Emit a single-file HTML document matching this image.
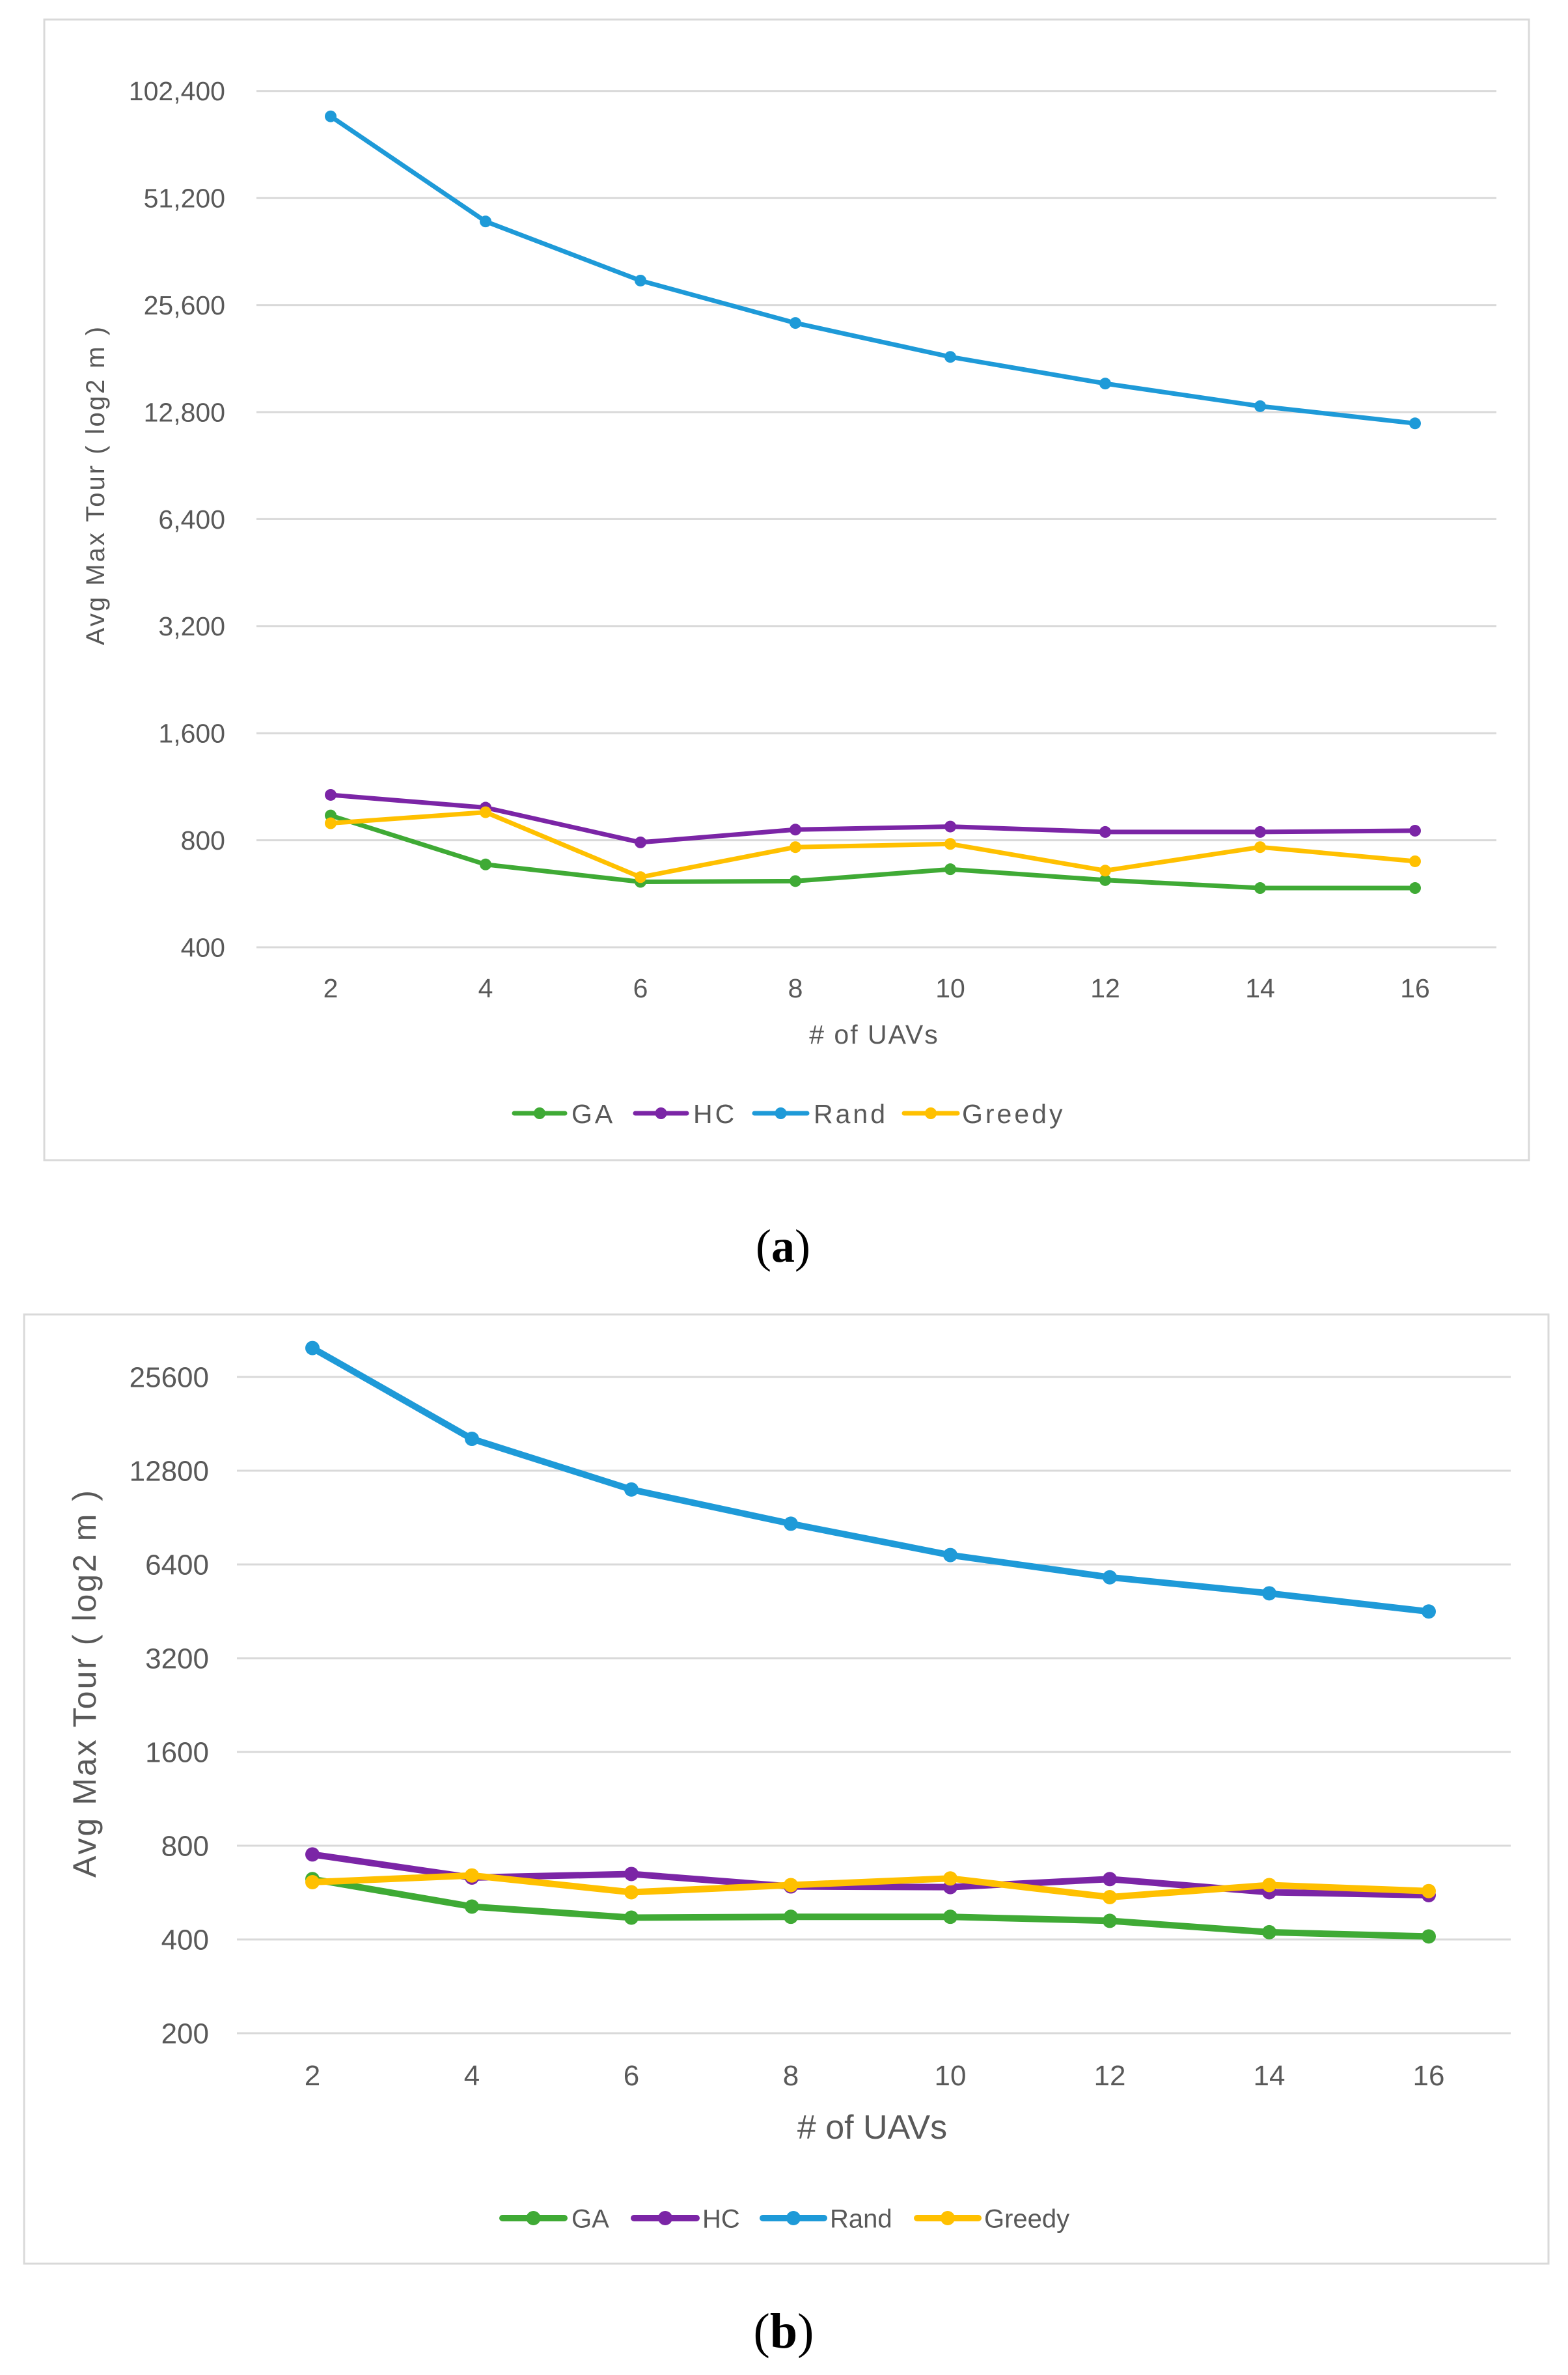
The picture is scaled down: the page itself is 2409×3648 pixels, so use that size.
<!DOCTYPE html>
<html><head><meta charset="utf-8">
<style>
html,body{margin:0;padding:0;background:#fff;}
svg{display:block;}
text{font-family:"Liberation Sans","DejaVu Sans",sans-serif;fill:#595959;}
</style></head>
<body>
<svg id="fig" width="2409" height="3648" viewBox="0 0 2409 3648" xmlns="http://www.w3.org/2000/svg">
<rect x="68" y="30" width="2281" height="1752" fill="#fff" stroke="#d9d9d9" stroke-width="3"/>
<rect x="37" y="2019" width="2342" height="1458" fill="#fff" stroke="#d9d9d9" stroke-width="3"/>
<text x="1203" y="1938" text-anchor="middle" style="font-family:'Liberation Serif',serif;font-size:72px;fill:#000">(<tspan font-weight="bold">a</tspan>)</text>
<text x="1204" y="3606" text-anchor="middle" style="font-family:'Liberation Serif',serif;font-size:76px;fill:#000">(<tspan font-weight="bold">b</tspan>)</text>
</svg>
<script>
// ---------- data ----------
const categories = [2, 4, 6, 8, 10, 12, 14, 16];
const seriesNames = ["GA", "HC", "Rand", "Greedy"];
const aTicks = [400, 800, 1600, 3200, 6400, 12800, 25600, 51200, 102400];
const aTickLabels = ["400", "800", "1,600", "3,200", "6,400", "12,800", "25,600", "51,200", "102,400"];
const aGA = [939, 684, 611, 614, 663, 618, 587, 587];
const aHC = [1073, 988, 789, 857, 874, 844, 844, 851];
const aRand = [86900, 44000, 30000, 22800, 18300, 15400, 13300, 11900];
const aGreedy = [893, 959, 630, 765, 781, 657, 765, 698];
const bTicks = [200, 400, 800, 1600, 3200, 6400, 12800, 25600];
const bTickLabels = ["200", "400", "800", "1600", "3200", "6400", "12800", "25600"];
const bGA = [625, 510, 470, 473, 473, 459, 422, 409];
const bHC = [750, 632, 649, 592, 589, 625, 567, 555];
const bRand = [31700, 16200, 11140, 8650, 6860, 5820, 5170, 4520];
const bGreedy = [611, 642, 567, 598, 628, 547, 598, 572];
const colors = {GA: "#3faa35", HC: "#7b25a6", Rand: "#1e9ad8", Greedy: "#ffc000"};

const NS = "http://www.w3.org/2000/svg";
const svg = document.getElementById("fig");
function mk(tag, attrs, parent) {
  const e = document.createElementNS(NS, tag);
  for (const k in attrs) e.setAttribute(k, attrs[k]);
  (parent || svg).appendChild(e);
  return e;
}

function drawChart(cfg) {
  const g = mk("g", {});
  
  
  const yScale = v => cfg.yBase - Math.log2(v / cfg.baseVal) * cfg.dbl;
  const xScale = c => cfg.x0 + (c - categories[0]) / 2 * cfg.dx;
  // gridlines and y labels
  cfg.ticks.forEach((t, i) => {
    const y = yScale(t);
    const ln = mk("line", {x1: cfg.gx0, x2: cfg.gx1, y1: y, y2: y, stroke: "#d9d9d9", "stroke-width": 3}, g);
    
    
    const tx = mk("text", {x: cfg.ylabX, y: y + cfg.tickFs * 0.35, "text-anchor": "end", "font-size": cfg.tickFs}, g);
    tx.textContent = cfg.tickLabels[i];
    
    
  });
  categories.forEach(c => {
    const tx = mk("text", {x: xScale(c), y: cfg.xlabY, "text-anchor": "middle", "font-size": cfg.tickFs}, g);
    tx.textContent = String(c);
    
    
  });
  const xt = mk("text", {x: cfg.xTitleX, y: cfg.xTitleY, "text-anchor": "middle", "font-size": cfg.xTitleFs, "letter-spacing": cfg.xTitleLs}, g);
  xt.textContent = "# of UAVs";
  
  
  const yt = mk("text", {x: 0, y: 0, "text-anchor": "middle", "font-size": cfg.yTitleFs, "letter-spacing": cfg.yTitleLs,
    transform: "translate(" + cfg.yTitleX + "," + cfg.yTitleY + ") rotate(-90)"}, g);
  yt.textContent = "Avg Max Tour ( log2 m )";
  
  
  // series
  cfg.series.forEach((vals, si) => {
    const name = seriesNames[si];
    const col = colors[name];
    const sg = mk("g", {}, g);
    
    
    const pts = vals.map((v, i) => xScale(categories[i]).toFixed(1) + "," + yScale(v).toFixed(1)).join(" ");
    const pl = mk("polyline", {points: pts, fill: "none", stroke: col, "stroke-width": cfg.lw, "stroke-linejoin": "round", "stroke-linecap": "round"}, sg);
    
    
    vals.forEach((v, i) => {
      const c = mk("circle", {cx: xScale(categories[i]), cy: yScale(v), r: cfg.mr, fill: col}, sg);
      
      
    });
  });
  // legend
  const lg = mk("g", {}, g);
  
  
  cfg.legend.forEach((L, i) => {
    const name = seriesNames[i];
    const col = colors[name];
    const eg = mk("g", {}, lg);
    
    
    mk("line", {x1: L[0], x2: L[1], y1: cfg.legY, y2: cfg.legY, stroke: col, "stroke-width": cfg.lw, "stroke-linecap": "round"}, eg);
    mk("circle", {cx: (L[0] + L[1]) / 2, cy: cfg.legY, r: cfg.mr, fill: col}, eg);
    const t = mk("text", {x: L[2], y: cfg.legY + cfg.legFs * 0.36, "font-size": cfg.legFs, "letter-spacing": cfg.legLs}, eg);
    t.textContent = name;
  });
}

drawChart({
  id: "chart-a", yBase: 1455, baseVal: 400, dbl: 164.4, x0: 508, dx: 238,
  gx0: 394, gx1: 2299, ticks: aTicks, tickLabels: aTickLabels,
  ylabX: 346, tickFs: 41, xlabY: 1532,
  xTitleX: 1343, xTitleY: 1603, xTitleFs: 41, xTitleLs: 2,
  yTitleX: 160, yTitleY: 745, yTitleFs: 40, yTitleLs: 3,
  series: [aGA, aHC, aRand, aGreedy], lw: 7, mr: 9,
  legY: 1710, legFs: 41, legLs: 4,
  legend: [[790, 868, 878], [976, 1055, 1065], [1159, 1240, 1250], [1389, 1471, 1478]]
});
drawChart({
  id: "chart-b", yBase: 2115, baseVal: 25600, dbl: 144, x0: 480, dx: 245,
  gx0: 364, gx1: 2321, ticks: bTicks, tickLabels: bTickLabels,
  ylabX: 321, tickFs: 44, xlabY: 3203,
  xTitleX: 1340, xTitleY: 3285, xTitleFs: 52, xTitleLs: 0,
  yTitleX: 147, yTitleY: 2585, yTitleFs: 50, yTitleLs: 3,
  series: [bGA, bHC, bRand, bGreedy], lw: 10, mr: 11,
  legY: 3407, legFs: 40, legLs: 0,
  legend: [[772, 867, 878], [974, 1070, 1079], [1172, 1266, 1275], [1409, 1503, 1512]]
});
</script>
</body></html>
